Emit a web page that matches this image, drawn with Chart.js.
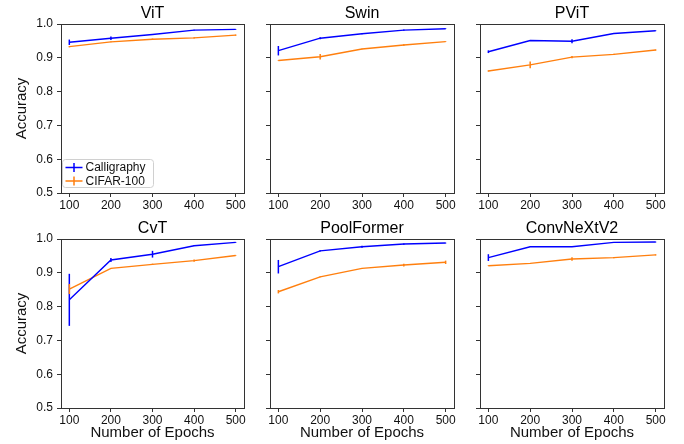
<!DOCTYPE html>
<html>
<head>
<meta charset="utf-8">
<script src="https://cdn.jsdelivr.net/npm/chart.js@4.4.1/dist/chart.umd.min.js"></script>
<style>
  body { margin: 0; background: #fff; }
  #wrap { position: relative; width: 684px; height: 444px; }
  #wrap canvas { position: absolute; left: 0; top: 0; }
</style>
</head>
<body>
<div id="wrap"></div>
<script>
var epochs = [100, 200, 300, 400, 500];
var yTicks = [0.5, 0.6, 0.7, 0.8, 0.9, 1.0];

var vitCalli = [0.946, 0.958, 0.969, 0.982, 0.984];
var vitCalliErr = [0.008, 0.005, 0.001, 0.001, 0.001];
var vitCifar = [0.933, 0.947, 0.955, 0.959, 0.967];
var vitCifarErr = [0.002, 0.001, 0.002, 0.002, 0.002];

var swinCalli = [0.921, 0.958, 0.971, 0.982, 0.986];
var swinCalliErr = [0.014, 0.003, 0.001, 0.002, 0.001];
var swinCifar = [0.892, 0.903, 0.926, 0.938, 0.948];
var swinCifarErr = [0.001, 0.008, 0.001, 0.002, 0.001];

var pvitCalli = [0.918, 0.951, 0.949, 0.972, 0.980];
var pvitCalliErr = [0.004, 0.001, 0.006, 0.001, 0.001];
var pvitCifar = [0.861, 0.879, 0.902, 0.910, 0.923];
var pvitCifarErr = [0.002, 0.010, 0.003, 0.002, 0.002];

var cvtCalli = [0.820, 0.938, 0.955, 0.980, 0.990];
var cvtCalliErr = [0.077, 0.006, 0.010, 0.001, 0.001];
var cvtCifar = [0.852, 0.913, 0.925, 0.936, 0.951];
var cvtCifarErr = [0.015, 0.001, 0.002, 0.003, 0.001];

var poolCalli = [0.918, 0.965, 0.977, 0.985, 0.988];
var poolCalliErr = [0.020, 0.002, 0.003, 0.002, 0.001];
var poolCifar = [0.844, 0.888, 0.913, 0.923, 0.931];
var poolCifarErr = [0.005, 0.001, 0.001, 0.004, 0.005];

var convCalli = [0.945, 0.977, 0.977, 0.990, 0.991];
var convCalliErr = [0.010, 0.001, 0.001, 0.001, 0.001];
var convCifar = [0.921, 0.928, 0.941, 0.945, 0.953];
var convCifarErr = [0.001, 0.001, 0.005, 0.002, 0.002];

var panels = [
  { title: 'ViT', calli: vitCalli, calliErr: vitCalliErr, cifar: vitCifar, cifarErr: vitCifarErr },
  { title: 'Swin', calli: swinCalli, calliErr: swinCalliErr, cifar: swinCifar, cifarErr: swinCifarErr },
  { title: 'PViT', calli: pvitCalli, calliErr: pvitCalliErr, cifar: pvitCifar, cifarErr: pvitCifarErr },
  { title: 'CvT', calli: cvtCalli, calliErr: cvtCalliErr, cifar: cvtCifar, cifarErr: cvtCifarErr },
  { title: 'PoolFormer', calli: poolCalli, calliErr: poolCalliErr, cifar: poolCifar, cifarErr: poolCifarErr },
  { title: 'ConvNeXtV2', calli: convCalli, calliErr: convCalliErr, cifar: convCifar, cifarErr: convCifarErr }
];

var BLUE = '#0000ff';
var ORANGE = '#ff7f0e';
var FONT = "'Liberation Sans', Arial, sans-serif";
var W = 684, H = 444;
var cols = [[61, 244], [270, 454], [480, 664]];
var rows = [[24, 193], [239, 408]];

Chart.defaults.font.family = FONT;
Chart.defaults.color = '#111';

function pts(vals) {
  return epochs.map(function (e, i) { return { x: e, y: vals[i] }; });
}

// frame around the plot area (all four spines)
var framePlugin = {
  id: 'frame',
  afterDraw: function (chart) {
    var a = chart.chartArea, ctx = chart.ctx;
    ctx.save();
    ctx.strokeStyle = '#333';
    ctx.lineWidth = 1;
    ctx.strokeRect(Math.round(a.left) + 0.5, Math.round(a.top) + 0.5,
      Math.round(a.right - a.left), Math.round(a.bottom - a.top));
    ctx.restore();
  }
};

// vertical error bars drawn through the scales
var errPlugin = {
  id: 'errbars',
  afterDatasetsDraw: function (chart) {
    var ctx = chart.ctx, ys = chart.scales.y, xs = chart.scales.x;
    ctx.save();
    chart.data.datasets.forEach(function (ds) {
      ctx.strokeStyle = ds.borderColor;
      ctx.lineWidth = 1.5;
      ds.data.forEach(function (p, i) {
        var e = ds.err[i];
        var x = xs.getPixelForValue(p.x);
        ctx.beginPath();
        ctx.moveTo(x, ys.getPixelForValue(p.y - e));
        ctx.lineTo(x, ys.getPixelForValue(p.y + e));
        ctx.stroke();
      });
    });
    ctx.restore();
  }
};

// matplotlib-style legend in the lower left of the plot
var legendPlugin = {
  id: 'boxLegend',
  afterDraw: function (chart, args, opts) {
    if (!opts.show) return;
    var a = chart.chartArea, ctx = chart.ctx;
    var bx = a.left + 1.5, by = a.bottom - 33.5, bw = 91, bh = 28;
    ctx.save();
    ctx.fillStyle = 'rgba(255,255,255,0.8)';
    ctx.strokeStyle = '#d0d0d0';
    ctx.lineWidth = 1;
    ctx.beginPath();
    ctx.roundRect(bx, by, bw, bh, 3);
    ctx.fill();
    ctx.stroke();
    ctx.font = '12px ' + FONT;
    ctx.textBaseline = 'middle';
    chart.data.datasets.forEach(function (ds, i) {
      var y = by + 8 + i * 13.5;
      ctx.strokeStyle = ds.borderColor;
      ctx.lineWidth = 1.5;
      ctx.beginPath();
      ctx.moveTo(bx + 3, y);
      ctx.lineTo(bx + 20, y);
      ctx.moveTo(bx + 11.5, y - 4.5);
      ctx.lineTo(bx + 11.5, y + 4.5);
      ctx.stroke();
      ctx.fillStyle = '#111';
      ctx.fillText(ds.label, bx + 23, y + 0.5);
    });
    ctx.restore();
  }
};

var wrap = document.getElementById('wrap');

panels.forEach(function (p, idx) {
  var c = idx % 3, r = Math.floor(idx / 3);
  var pl = cols[c][0], pr = cols[c][1], pt = rows[r][0], pb = rows[r][1];
  var yw = c === 0 ? 61 : 6;
  var xh = r === 1 ? 36 : 20;
  var canvas = document.createElement('canvas');
  canvas.width = W;
  canvas.height = H;
  wrap.appendChild(canvas);

  new Chart(canvas.getContext('2d'), {
    type: 'line',
    data: {
      datasets: [
        { label: 'Calligraphy', data: pts(p.calli), err: p.calliErr,
          borderColor: BLUE, borderWidth: 1.4, pointRadius: 0, tension: 0, fill: false },
        { label: 'CIFAR-100', data: pts(p.cifar), err: p.cifarErr,
          borderColor: ORANGE, borderWidth: 1.4, pointRadius: 0, tension: 0, fill: false }
      ]
    },
    options: {
      responsive: false,
      animation: false,
      layout: {
        padding: { left: pl - yw, right: W - pr, top: pt - 20.2, bottom: H - pb - xh }
      },
      plugins: {
        legend: { display: false },
        tooltip: { enabled: false },
        title: {
          display: true, text: p.title, fullSize: false,
          font: { size: 16, weight: 'normal' }, color: '#000',
          padding: { top: 0, bottom: 1 }
        },
        boxLegend: { show: idx === 0 }
      },
      scales: {
        x: {
          type: 'linear', min: 80, max: 520,
          afterBuildTicks: function (s) { s.ticks = epochs.map(function (v) { return { value: v }; }); },
          afterFit: function (s) { s.height = xh; },
          border: { display: false },
          grid: { drawOnChartArea: false, drawTicks: true, tickLength: 4, color: '#333' },
          ticks: { font: { size: 12 }, padding: 1, maxRotation: 0, color: '#111' },
          title: { display: r === 1, text: 'Number of Epochs', font: { size: 15 }, padding: { top: 0, bottom: 2 }, color: '#111' }
        },
        y: {
          min: 0.5, max: 1.0,
          afterBuildTicks: function (s) { s.ticks = yTicks.map(function (v) { return { value: v }; }); },
          afterFit: function (s) { s.width = yw; },
          border: { display: false },
          grid: { drawOnChartArea: false, drawTicks: true, tickLength: 4, color: '#333' },
          ticks: { display: c === 0, font: { size: 12 }, padding: 4, color: '#111',
            callback: function (v) { return Number(v).toFixed(1); } },
          title: { display: c === 0, text: 'Accuracy', font: { size: 15 }, padding: { top: 13, bottom: 0 }, color: '#111' }
        }
      }
    },
    plugins: [framePlugin, errPlugin, legendPlugin]
  });
});
</script>
</body>
</html>
